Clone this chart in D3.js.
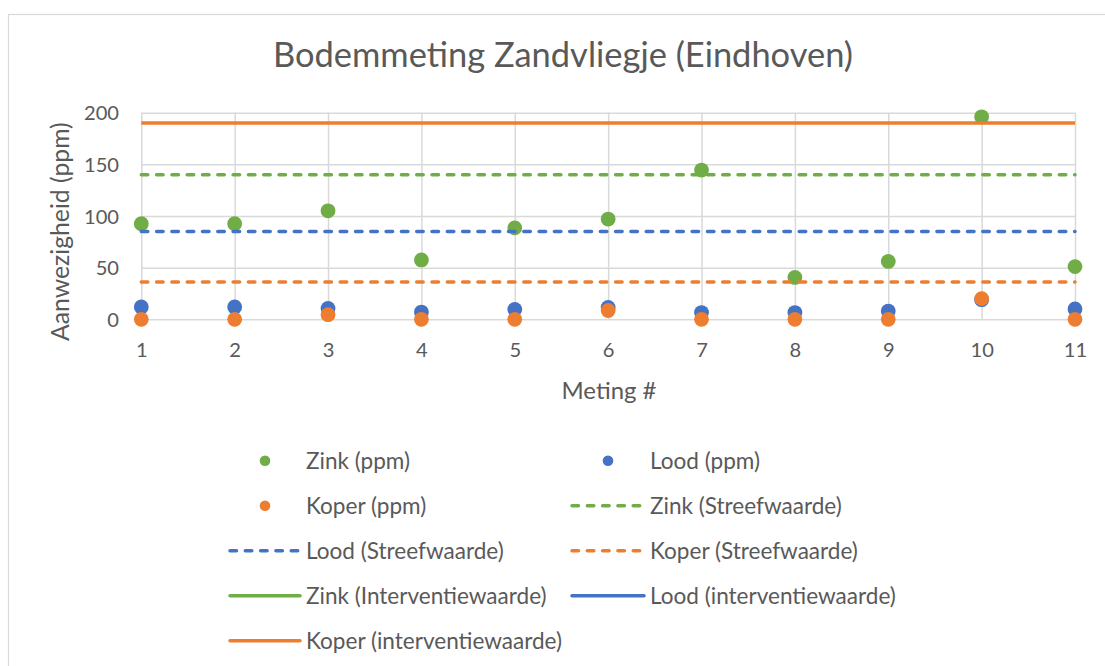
<!DOCTYPE html>
<html>
<head>
<meta charset="utf-8">
<script src="https://cdn.jsdelivr.net/npm/d3@7"></script>
<style>
  html, body { margin: 0; padding: 0; background: #ffffff; }
  svg { display: block; font-family: Lato, "Open Sans", sans-serif; }
</style>
</head>
<body>
<svg id="chart" width="1105" height="666"></svg>
<script>
// ---- data ----
const metingen = [1, 2, 3, 4, 5, 6, 7, 8, 9, 10, 11];
const zink  = [92.5, 92.5, 105, 57.5, 88.5, 97, 144.5, 40.5, 56, 196, 51];
const lood  = [12, 12, 10.5, 7, 9.5, 11.5, 6.5, 6.5, 8, 19, 10];
const koper = [0, 0, 4.5, 0, 0, 8.5, 0, 0, 0, 20, 0];
const yTicks = [0, 50, 100, 150, 200];
const xTicks = metingen;
const streefwaarden = { zink: 140, lood: 85, koper: 36 };
const interventiewaarden = { zink: 720, lood: 530, koper: 190 };
const title = "Bodemmeting Zandvliegje (Eindhoven)";
const yTitle = "Aanwezigheid (ppm)";
const xTitle = "Meting #";

const colors = { zink: "#70AD47", lood: "#4472C4", koper: "#ED7D31" };
const textColor = "#595959";
const gridColor = "#D9D9D9";

const pointSeries = [
  { name: "Zink (ppm)", key: "zink", values: zink },
  { name: "Lood (ppm)", key: "lood", values: lood },
  { name: "Koper (ppm)", key: "koper", values: koper }
];
const lineSeries = [
  { name: "Zink (Streefwaarde)", key: "zink", value: streefwaarden.zink, dashed: true },
  { name: "Lood (Streefwaarde)", key: "lood", value: streefwaarden.lood, dashed: true },
  { name: "Koper (Streefwaarde)", key: "koper", value: streefwaarden.koper, dashed: true },
  { name: "Zink (Interventiewaarde)", key: "zink", value: interventiewaarden.zink, dashed: false },
  { name: "Lood (interventiewaarde)", key: "lood", value: interventiewaarden.lood, dashed: false },
  { name: "Koper (interventiewaarde)", key: "koper", value: interventiewaarden.koper, dashed: false }
];

// ---- layout ----
const svg = d3.select("#chart");
const plot = { left: 141.3, right: 1075, top: 112.7, bottom: 319.3 };

// fit font size of a text element so its width matches target
function fitSize(str, target, family) {
  const t = svg.append("text").attr("font-size", 100).style("font-family", family || null).text(str);
  const w = t.node().getComputedTextLength();
  t.remove();
  return 100 * target / w;
}

const titleSize = fitSize(title, 580);
const tickSize = fitSize("200", 35);
const yTitleSize = fitSize(yTitle, 219);
const xTitleSize = fitSize(xTitle, 95);
const legendSize = fitSize("Lood (interventiewaarde)", 246);

// chart frame
svg.append("rect")
  .attr("x", 8.5).attr("y", 14.5)
  .attr("width", 1120).attr("height", 700)
  .attr("fill", "#fff").attr("stroke", gridColor).attr("stroke-width", 1.2);

const x = d3.scaleLinear().domain([1, 11]).range([plot.left, plot.right]);
const y = d3.scaleLinear().domain([0, 200]).range([plot.bottom, plot.top]);

// y axis with gridlines
const yAxis = svg.append("g")
  .attr("transform", `translate(${plot.left},0)`)
  .call(d3.axisLeft(y).tickValues(yTicks).tickSize(-(plot.right - plot.left)).tickFormat(d3.format("d")));
yAxis.select(".domain").remove();
yAxis.selectAll("line").attr("stroke", gridColor).attr("stroke-width", 1.5);
yAxis.selectAll("text")
  .attr("x", -(plot.left - 119)).attr("dy", "0.36em")
  .attr("fill", textColor).attr("font-size", tickSize)
  .style("font-family", "Lato");

// x axis with gridlines
const xAxis = svg.append("g")
  .attr("transform", `translate(0,${plot.bottom})`)
  .call(d3.axisBottom(x).tickValues(xTicks).tickSize(-(plot.bottom - plot.top)).tickFormat(d3.format("d")));
xAxis.select(".domain").remove();
xAxis.selectAll("line").attr("stroke", gridColor).attr("stroke-width", 1.5);
xAxis.selectAll("text")
  .attr("y", 350 - plot.bottom).attr("dy", "0.36em")
  .attr("fill", textColor).attr("font-size", tickSize)
  .style("font-family", "Lato");

// clip
svg.append("clipPath").attr("id", "clip")
  .append("rect").attr("x", plot.left - 10).attr("y", plot.top - 10)
  .attr("width", plot.right - plot.left + 20).attr("height", plot.bottom - plot.top + 20);

const marks = svg.append("g").attr("clip-path", "url(#clip)");

// points
const R = 7.4;
pointSeries.forEach(s => {
  marks.append("g").selectAll("circle")
    .data(s.values.map((v, i) => ({ x: metingen[i], y: v })))
    .join("circle")
    .attr("cx", d => x(d.x)).attr("cy", d => y(d.y)).attr("r", R)
    .attr("fill", colors[s.key]);
});

// reference lines
const lineGen = d3.line().x(d => x(d.x)).y(d => y(d.y));
lineSeries.forEach(s => {
  const pts = metingen.map(m => ({ x: m, y: s.value }));
  marks.append("path")
    .attr("d", lineGen(pts))
    .attr("fill", "none")
    .attr("stroke", colors[s.key])
    .attr("stroke-width", 3.5)
    .attr("stroke-linecap", s.dashed ? "round" : "butt")
    .attr("stroke-dasharray", s.dashed ? "6.5,8.8" : null);
});

// titles
svg.append("text")
  .attr("x", 273 + 290).attr("y", 67.3)
  .attr("text-anchor", "middle")
  .attr("font-size", titleSize).attr("fill", textColor)
  .text(title);

svg.append("text")
  .attr("transform", `translate(60,231.7) rotate(-90)`)
  .attr("text-anchor", "middle").attr("dy", "0.35em")
  .attr("font-size", yTitleSize).attr("fill", textColor)
  .text(yTitle);

svg.append("text")
  .attr("x", 609).attr("y", 391).attr("dy", "0.35em")
  .attr("text-anchor", "middle")
  .attr("font-size", xTitleSize).attr("fill", textColor)
  .text(xTitle);

// legend
const legendItems = [
  ...pointSeries.map(s => ({ name: s.name, key: s.key, type: "point" })),
  ...lineSeries.map(s => ({ name: s.name, key: s.key, type: s.dashed ? "dash" : "solid" }))
];
const rowY = [460.7, 505.7, 550.7, 595.7, 640.7];
const colSymStart = [230, 572];
const colText = [306, 650];
const legend = svg.append("g");
legendItems.forEach((it, i) => {
  const row = Math.floor(i / 2), col = i % 2;
  const g = legend.append("g").attr("transform", `translate(0,${rowY[row]})`);
  const x0 = colSymStart[col], x1 = colText[col] - 6;
  if (it.type === "point") {
    g.append("circle").attr("cx", (x0 + x1) / 2).attr("cy", 0).attr("r", 5.3).attr("fill", colors[it.key]);
  } else {
    g.append("line").attr("x1", x0).attr("x2", x1).attr("y1", 0).attr("y2", 0)
      .attr("stroke", colors[it.key]).attr("stroke-width", 3.5)
      .attr("stroke-linecap", it.type === "dash" ? "round" : "round")
      .attr("stroke-dasharray", it.type === "dash" ? "6.5,8.8" : null);
  }
  g.append("text").attr("x", colText[col]).attr("y", 0).attr("dy", "0.35em")
    .attr("font-size", legendSize).attr("fill", textColor).text(it.name);
});
</script>
</body>
</html>
